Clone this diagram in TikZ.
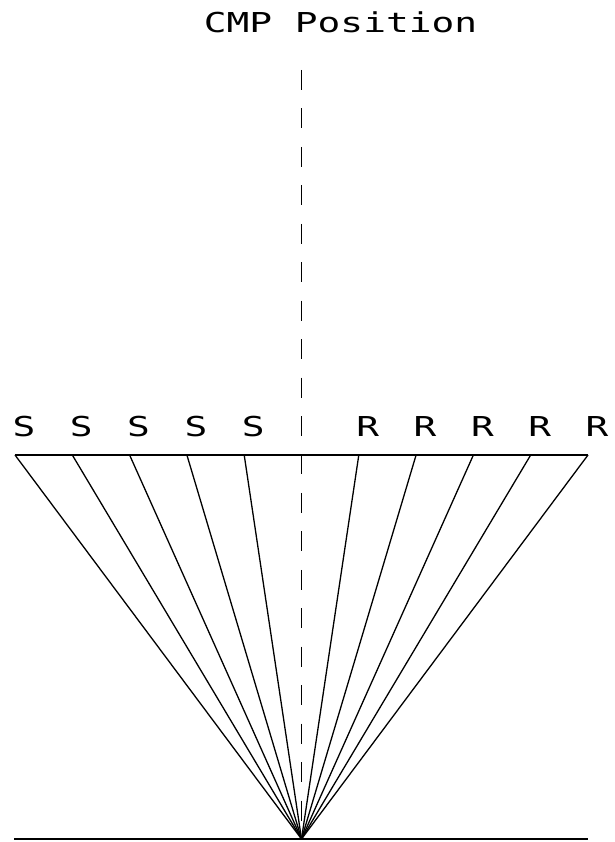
\documentclass[tikz,border=0pt]{standalone}
\usepackage{fontspec}
\newfontfamily\plotfont[FakeStretch=1.38]{DejaVu Sans Mono}
\usetikzlibrary{positioning, calc}

\begin{document}
\begin{tikzpicture}[x=1pt, y=1pt,
    ray/.style={line width=1.3pt, black},
    cmp/.style={line width=1.7pt, dash pattern=on 20pt off 18.45pt},
    lbl/.style={font={\plotfont\fontsize{27.4}{30}\selectfont}, inner sep=0pt, anchor=base},
]
    \useasboundingbox (0,0) rectangle (614,842);

    % geophone spread and the common midpoint below it
    \coordinate (apex) at (301.5,3);
    \coordinate (bl) at (14,3);
    \coordinate (br) at (588,3);
    \foreach \i in {0,...,10}
        \coordinate (t\i) at ({15+57.3*\i},387);

    \node[lbl] (title) at (340.5,809) {CMP Position};
    \coordinate (cmptop) at (301.5,772);

    \draw[ray] (t0) -- (t10);
    \draw[ray] (bl) -- (br);
    \foreach \i in {0,1,2,3,4,6,7,8,9,10}
        \draw[ray] (t\i) -- (apex);
    \draw[cmp] (cmptop) -- (apex);

    % sources left, receivers right
    \foreach \i in {0,...,4}
        \node[lbl] (s\i) at ($(t\i)+(9,18)$) {S};
    \foreach \i in {6,...,10}
        \node[lbl] (r\i) at ($(t\i)+(9,18)$) {R};
\end{tikzpicture}
\end{document}
